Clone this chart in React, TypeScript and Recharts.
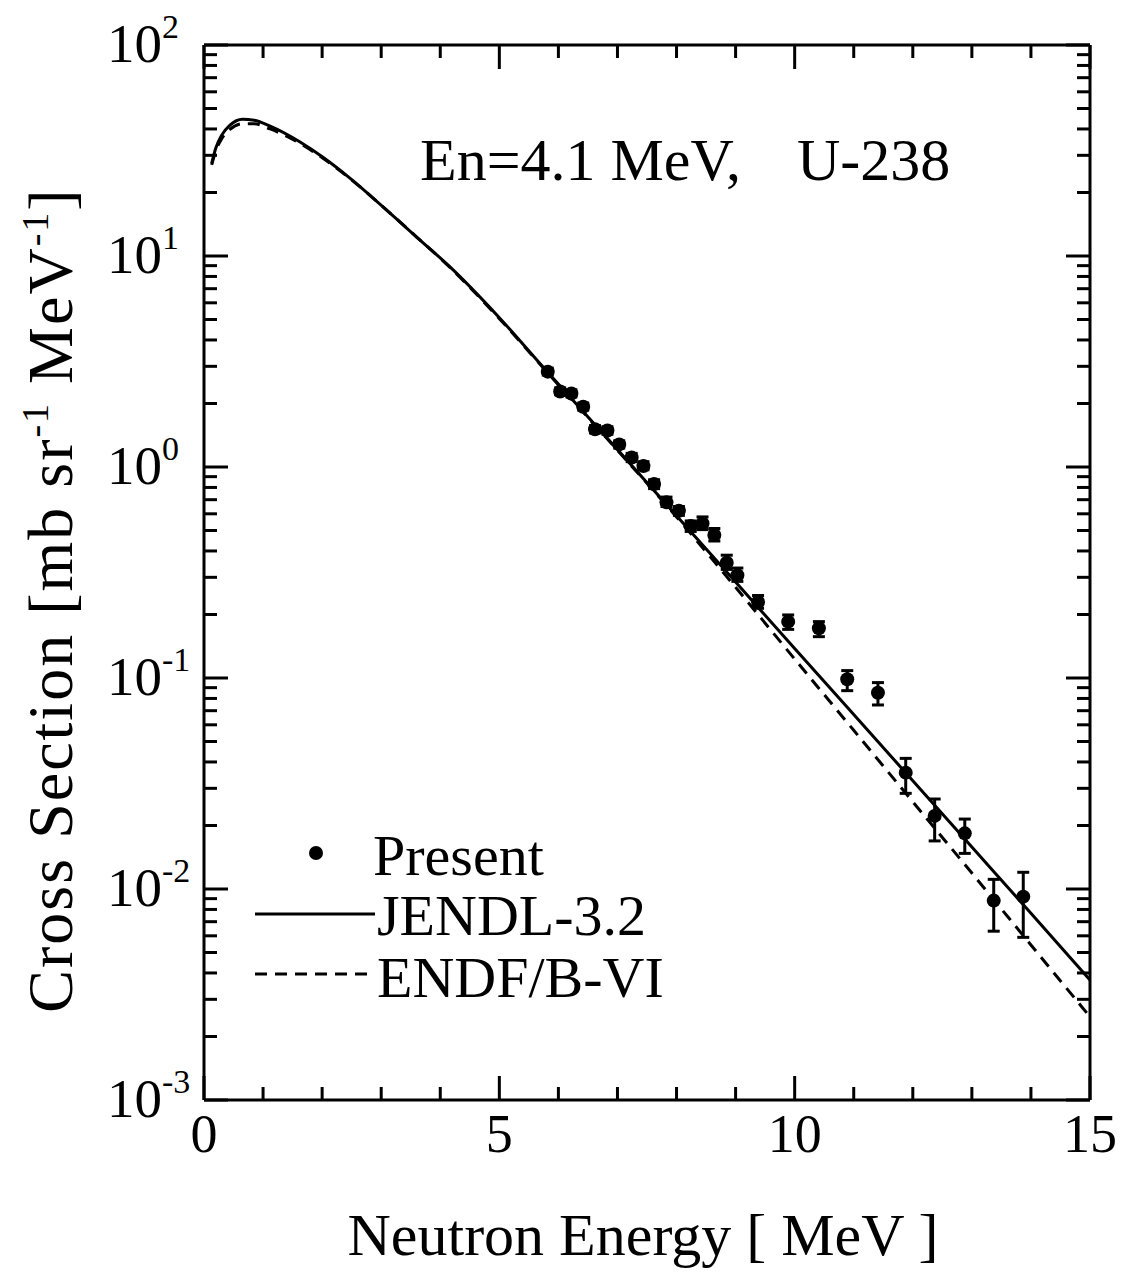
import { ComposedChart, ErrorBar, Legend, Line, Scatter, XAxis, YAxis } from "recharts";

// evaluated spectra (energy grid in MeV, values in mb/sr/MeV)
const curveEnergy = [0.13, 0.2, 0.3, 0.44, 0.65, 0.85, 1.12, 1.62, 2.02, 2.47, 3.04, 3.6, 4.16, 5.0, 5.8, 7, 8, 9, 10, 11, 12, 13, 14, 15];
const jendlValues = [27.5, 32.5, 37.4, 41.7, 44.5, 44.0, 41.3, 34.8, 29.3, 23.4, 17.0, 12.3, 8.9, 5.1, 2.85, 1.21, 0.587, 0.285, 0.138, 0.0671, 0.0326, 0.0158, 0.00767, 0.0037];
const endfValues = [27.0, 31.5, 36.0, 39.8, 42.3, 42.3, 40.0, 34.2, 29.0, 23.3, 17.0, 12.3, 8.85, 5.05, 2.83, 1.2, 0.58, 0.269, 0.123, 0.0565, 0.0259, 0.0119, 0.00543, 0.00248];

// measured points ("Present")
const measEnergy = [5.82, 6.03, 6.22, 6.42, 6.62, 6.83, 7.03, 7.24, 7.44, 7.62, 7.83, 8.04, 8.24, 8.44, 8.64, 8.85, 9.03, 9.38, 9.89, 10.41, 10.89, 11.41, 11.88, 12.37, 12.88, 13.37, 13.87];
const measValue = [2.83, 2.28, 2.23, 1.93, 1.51, 1.49, 1.28, 1.11, 1.01, 0.83, 0.68, 0.62, 0.525, 0.54, 0.476, 0.352, 0.307, 0.229, 0.185, 0.172, 0.0987, 0.0851, 0.0356, 0.0222, 0.01835, 0.00881, 0.0092];
const errLow = [0.1, 0.08, 0.08, 0.07, 0.06, 0.06, 0.05, 0.05, 0.04, 0.04, 0.03, 0.03, 0.03, 0.035, 0.03, 0.025, 0.02, 0.015, 0.015, 0.015, 0.0116, 0.0106, 0.0072, 0.0053, 0.0036, 0.0025, 0.0033];
const errHigh = [0.11, 0.09, 0.09, 0.08, 0.06, 0.06, 0.05, 0.05, 0.05, 0.04, 0.04, 0.03, 0.03, 0.04, 0.035, 0.03, 0.025, 0.017, 0.014, 0.013, 0.0097, 0.01, 0.006, 0.0045, 0.0031, 0.0023, 0.0028];

const xTicks = [0, 1, 2, 3, 4, 5, 6, 7, 8, 9, 10, 11, 12, 13, 14, 15];
const xMajor = [0, 5, 10, 15];
const yDecades = [-3, -2, -1, 0, 1];
const yMinor = [1, 2, 3, 4, 5, 6, 7, 8, 9];

const curveData = curveEnergy.map((e, i) => ({ e, jendl: jendlValues[i], endf: endfValues[i] }));
const measData = measEnergy.map((e, i) => ({ e, v: measValue[i], err: [errLow[i], errHigh[i]] }));

const yTicks: number[] = [];
yDecades.forEach((d) => yMinor.forEach((k) => yTicks.push(Number((k * Math.pow(10, d)).toPrecision(3)))));
yTicks.push(100);

const FONT = "'Liberation Serif', 'Times New Roman', serif";
const AXIS = { stroke: "#000", strokeWidth: 3 };

const isDecade = (v: number) => Math.abs(Math.log10(v) - Math.round(Math.log10(v))) < 1e-6;

function LeftTick(props: any) {
  const { x, y, payload } = props;
  const major = isDecade(payload.value);
  return (
    <g>
      <line x1={x} x2={x + (major ? 24 : 13)} y1={y} y2={y} stroke="#000" strokeWidth={3} />
      {major && (
        <text x={x - 97} y={y + 17} fontFamily={FONT} fontSize={55} fill="#000">
          10<tspan dy={-24} fontSize={34}>{Math.round(Math.log10(payload.value))}</tspan>
        </text>
      )}
    </g>
  );
}

function RightTick(props: any) {
  const { x, y, payload } = props;
  const major = isDecade(payload.value);
  return <line x1={x} x2={x - (major ? 24 : 13)} y1={y} y2={y} stroke="#000" strokeWidth={3} />;
}

function BottomTick(props: any) {
  const { x, y, payload } = props;
  const major = xMajor.includes(payload.value);
  return (
    <g>
      <line x1={x} x2={x} y1={y} y2={y - (major ? 24 : 13)} stroke="#000" strokeWidth={3} />
      {major && (
        <text x={x} y={y + 52} textAnchor="middle" fontFamily={FONT} fontSize={54} fill="#000">
          {payload.value}
        </text>
      )}
    </g>
  );
}

function TopTick(props: any) {
  const { x, y, payload } = props;
  const major = xMajor.includes(payload.value);
  return <line x1={x} x2={x} y1={y} y2={y + (major ? 24 : 13)} stroke="#000" strokeWidth={3} />;
}

const dot = (p: any) => <circle cx={p.cx} cy={p.cy} r={7} fill="#000" />;

const renderLegend = () => (
  <svg width={460} height={200} style={{ overflow: "visible", display: "block" }}>
    <circle cx={76} cy={33} r={7} fill="#000" />
    <text x={133} y={55} fontFamily={FONT} fontSize={58} fill="#000">Present</text>
    <line x1={15} x2={135} y1={94} y2={94} stroke="#000" strokeWidth={3} />
    <text x={137} y={115} fontFamily={FONT} fontSize={58} fill="#000">JENDL-3.2</text>
    <line x1={15} x2={135} y1={154} y2={154} stroke="#000" strokeWidth={3} strokeDasharray="12 8" />
    <text x={137} y={177} fontFamily={FONT} fontSize={58} fill="#000">ENDF/B-VI</text>
  </svg>
);

export default function App() {
  return (
    <ComposedChart width={1110} height={1265} margin={{ top: 35, right: 26, bottom: 73, left: 16 }}>
      <XAxis
        xAxisId="b"
        dataKey="e"
        type="number"
        domain={[0, 15]}
        ticks={xTicks}
        interval={0}
        allowDataOverflow
        height={100}
        tickSize={0}
        tickMargin={0}
        tickLine={false}
        axisLine={AXIS}
        tick={BottomTick}
        label={() => (
          <text x={635} y={1247} textAnchor="middle" fontFamily={FONT} fontSize={60} fill="#000">
            Neutron Energy [ MeV ]
          </text>
        )}
      />
      <XAxis
        xAxisId="t"
        orientation="top"
        dataKey="e"
        type="number"
        domain={[0, 15]}
        ticks={xTicks}
        interval={0}
        allowDataOverflow
        height={2}
        tickSize={0}
        tickMargin={0}
        tickLine={false}
        axisLine={AXIS}
        tick={TopTick}
        label={() => (
          <text y={172} fontFamily={FONT} fontSize={60} fill="#000">
            <tspan x={412}>En=4.1 MeV,</tspan>
            <tspan x={789}>U-238</tspan>
          </text>
        )}
      />
      <YAxis
        yAxisId="l"
        type="number"
        scale="log"
        domain={[0.001, 100]}
        ticks={yTicks}
        interval={0}
        allowDataOverflow
        width={180}
        tickSize={0}
        tickMargin={0}
        tickLine={false}
        axisLine={AXIS}
        tick={LeftTick}
        label={() => (
          <text
            x={64}
            y={592}
            transform="rotate(-90, 64, 592)"
            textAnchor="middle"
            fontFamily={FONT}
            fontSize={64}
            letterSpacing={2}
            fill="#000"
          >
            Cross Section [mb sr<tspan dy={-24} fontSize={38}>-1</tspan>
            <tspan dy={24}> MeV</tspan>
            <tspan dy={-24} fontSize={38}>-1</tspan>
            <tspan dy={24}>]</tspan>
          </text>
        )}
      />
      <YAxis
        yAxisId="r"
        orientation="right"
        type="number"
        scale="log"
        domain={[0.001, 100]}
        ticks={yTicks}
        interval={0}
        allowDataOverflow
        width={2}
        tickSize={0}
        tickMargin={0}
        tickLine={false}
        axisLine={AXIS}
        tick={RightTick}
      />
      <Line
        xAxisId="t"
        yAxisId="r"
        data={curveData}
        dataKey="jendl"
        stroke="none"
        dot={false}
        legendType="none"
        isAnimationActive={false}
      />
      <Line
        xAxisId="b"
        yAxisId="l"
        data={curveData}
        dataKey="endf"
        type="monotone"
        stroke="#000"
        strokeWidth={3}
        strokeDasharray="12 8"
        dot={false}
        isAnimationActive={false}
      />
      <Line
        xAxisId="b"
        yAxisId="l"
        data={curveData}
        dataKey="jendl"
        type="monotone"
        stroke="#000"
        strokeWidth={3}
        dot={false}
        isAnimationActive={false}
      />
      <Scatter xAxisId="b" yAxisId="l" data={measData} dataKey="v" shape={dot} isAnimationActive={false}>
        <ErrorBar dataKey="err" direction="y" width={6} stroke="#000" strokeWidth={3} isAnimationActive={false} />
      </Scatter>
      <Legend
        layout="horizontal"
        verticalAlign="middle"
        align="center"
        content={renderLegend}
        wrapperStyle={{ left: 232, top: 812, width: 460, height: 200 }}
      />
    </ComposedChart>
  );
}
